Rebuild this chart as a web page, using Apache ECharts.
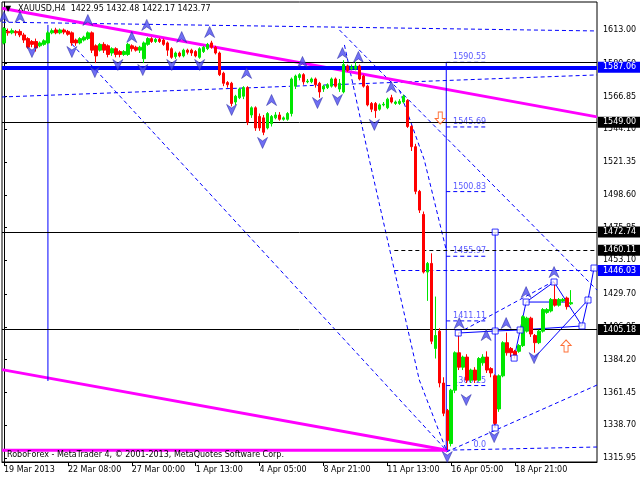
<!DOCTYPE html>
<html><head><meta charset="utf-8">
<script src="https://cdn.jsdelivr.net/npm/echarts@6/dist/echarts.min.js"></script>
<style>html,body{margin:0;padding:0;background:#fff}#c{width:640px;height:480px}</style>
</head><body><div id="c"></div>
<script>
// ---- candles (H4 XAUUSD) : open / close / low / high ----
const open = [1604,1612,1611,1612,1612,1609.5,1607,1605,1605,1602,1603,1604,1611,1613,1611,1613,1612,1611,1606,1604,1606,1607,1611,1602,1599,1603,1602,1597,1600,1598,1596,1596,1602,1601,1599,1593,1603,1607,1605,1606.5,1606,1604,1600,1594.5,1597,1595,1599,1599,1598,1594,1598,1600,1604,1601,1597,1583,1576.5,1576,1563,1566,1567,1573,1554,1559,1553,1552,1545,1548,1552,1554,1551,1551,1555,1574,1580,1582,1577,1577,1579,1576,1572,1573,1574,1579,1572,1570,1588,1586,1586,1588,1581,1574,1562,1562,1558,1561,1559,1566,1562,1562,1563,1564,1546,1532,1501,1485,1445,1451,1392,1404,1368,1349,1326,1363,1389,1379,1386,1370,1377,1370,1382,1386,1378,1373,1350,1373,1396,1392,1390,1390,1394,1404,1413,1401,1396,1404,1417,1418,1426,1422,1425,1427,1422.95];
const close = [1614,1611,1612.5,1611,1609.5,1606,1601,1603,1600.5,1604,1605.5,1611,1612.5,1611,1613,1611.5,1610,1604,1604,1607,1608,1611,1599,1595,1603,1599,1596,1600,1596,1596,1598,1603,1600,1599,1601,1604,1607,1605,1606.5,1605,1603,1599,1594,1597,1595,1599,1597.5,1597,1595,1600,1601,1603,1601,1597,1582,1576,1575,1562,1567,1572,1573,1549,1559,1545,1545,1542,1555,1553,1554,1551,1552,1555,1579,1581,1582,1577,1577.5,1579,1575,1570,1574,1575,1579,1574,1576,1589,1585,1587,1588,1579,1574,1561,1558,1557,1561,1561.5,1565,1563,1563,1563.5,1567,1546,1532,1501,1488,1445,1451,1397,1401,1368,1347,1328,1363,1389,1379,1386,1370,1377,1370,1385,1386,1377,1375,1340,1373,1396,1389,1389,1387,1394,1414,1413,1402,1396,1404,1419,1419,1426,1422,1426,1426,1421,1423.77];
const low = [1603,1609,1610,1609,1608,1604,1600,1601,1598,1601,1602,1603,1610,1610,1610,1610,1609,1602,1602,1603,1605,1606,1597,1590,1598,1597,1594,1595,1594,1594,1595,1595,1598,1598,1597,1590,1602,1604,1604,1604,1602,1595,1593,1593,1594,1594,1596,1595,1594,1593,1597,1599,1600,1596,1581,1574,1573,1560,1561,1565,1565,1547,1552,1543,1543,1540,1544,1546,1551,1550,1550,1550,1553,1572,1578,1575,1576,1576,1573,1566,1570,1572,1573,1573,1570,1569,1584,1585,1585,1578,1573,1560,1556,1552,1557,1560,1558,1562,1561,1561,1562,1545,1529,1499,1486,1444,1425,1395,1385,1365,1345,1321.4,1324,1361,1377,1377,1368,1368,1368,1369,1380,1375,1372,1337,1348,1372,1387,1386,1385,1389,1393,1403,1400,1389,1395,1403,1416,1417,1421,1421,1424,1419,1422.17];
const high = [1615,1614,1614,1613,1613.5,1611,1608,1606,1607,1605,1606.5,1612.5,1614,1614.5,1614,1614,1613,1612,1607,1608,1609,1612,1612,1603,1604,1604.5,1603,1601,1601,1599,1599,1604,1603,1602,1602,1605,1608,1608,1607.5,1607.5,1607,1605,1601,1598,1598,1600,1600,1600,1599,1601,1602,1604,1605.5,1602,1598,1584,1577.5,1577,1568,1573,1574,1574,1560,1560,1555,1554,1556,1554,1556,1556,1553,1556,1580,1582,1583,1583,1579,1580,1580,1577,1575,1576,1580,1580,1579,1592,1589,1589,1591,1589,1582,1575,1563,1563,1562,1563,1566,1568,1564,1565,1568,1565,1547,1534,1502,1487,1452,1458,1428,1406,1372,1350,1364,1390,1403,1387,1388,1378,1379,1386,1388,1390,1379,1374,1374,1397,1403,1393,1391,1395,1415,1414,1414,1402,1405,1420,1420,1427,1438,1427,1427,1428,1432.48];
const barCount = 149; // includes empty future slots on the right

// ---- axis tick labels ----
const xTickIndex = [0,16,32,48,64,80,96,112,128];
const xTickText = ['19 Mar 2013','22 Mar 08:00','27 Mar 00:00','1 Apr 13:00','4 Apr 05:00','8 Apr 21:00','11 Apr 13:00','16 Apr 05:00','18 Apr 21:00'];
const yTickValues = [1613.00,1589.60,1566.85,1544.10,1521.35,1498.60,1475.85,1453.10,1429.70,1406.95,1384.20,1361.45,1338.70,1315.95];
const priceMin = 1313.2, priceMax = 1632.4;

// ---- horizontal levels ----
const blackLevels = [1590.3, 1549.00, 1472.74, 1405.18];
const blueLevel = [1587.06];
const dashedBlackLevel = [1460.11];
const dashedBlueLevel = [1446.03];
const lastPrice = [1423.77];
const partialLevelStart = 97.75; // bar index where the dashed levels begin

// ---- drawn objects [barIndex, price] ----
const magentaLines = [
  [[-0.5,1628.0],[148.5,1552.7]],
  [[-0.5,1377.3],[111,1321.4]],
  [[-0.5,1321.4],[111,1321.4]]
];
const blueSolidLines = [
  [[11,1616.5],[11,1369.4]],
  [[110.75,1590.55],[110.75,1321.4]],
  [[123,1472.74],[123,1336.8]],
  [[113.75,1402.7],[123,1404.1],[129.25,1404.8],[144.75,1407.6]],
  [[127.75,1385.3],[129.25,1404.8],[130.75,1424.2],[140.75,1424.2]],
  [[130.75,1424.2],[137.75,1438.1],[144.75,1407.6],[146.25,1425.6],[147.75,1447.8]],
  [[132.75,1385.3],[146.25,1425.6]]
];
const blueDashedLines = [
  [[-0.5,1618.4],[148.5,1612.3]],
  [[-0.5,1566.5],[148.5,1581.8]],
  [[17,1603.2],[110.75,1321.4]],
  [[84,1613.0],[148.5,1432.5]],
  [[110.75,1320.1],[148.5,1366.6]],
  [[85.25,1602.6],[91.5,1522.8],[97.75,1446.4],[104,1370.1],[110.75,1321.4]],
  [[99,1571.4],[105.25,1522.8],[110.75,1460.3]],
  [[110.75,1321.4],[148.5,1323.6]],
  [[113.75,1402.7],[138.25,1439.5]]
];
const squareMarks = [[113.75,1402.7],[123,1404.1],[123,1472.74],[123,1336.8],[129.25,1404.8],[127.75,1385.3],[130.75,1424.2],[137.75,1438.1],[144.75,1407.6],[146.25,1425.6],[147.75,1447.8]];
const fiboLevels = [1590.55,1545.69,1500.83,1455.97,1411.11,1366.25,1321.39];
const fiboText = ['1590.55','1545.69','1500.83','1455.97','1411.11','1366.25','0.0'];
const fiboFrom = 110.75, fiboTo = 120.75;
const upFractals = [[0,1622],[4,1622],[21,1619.9],[32,1608.1],[35.75,1616.5],[44.5,1608.1],[51.5,1611.6],[60.75,1583.2],[67,1564.4],[74.75,1590.8],[84.75,1597.0],[88.75,1594.3],[97,1573.4],[114,1409.6],[120.75,1401.3],[125.75,1409.6],[130.75,1431.1],[137.75,1445.0]];
const downFractals = [[7,1597.7],[17,1597.7],[22.75,1583.8],[28.5,1588.7],[34.75,1585.2],[42,1588.7],[49,1588.7],[57,1557.5],[64.75,1534.6],[78.5,1562.3],[83.5,1564.4],[92.75,1547.1],[111,1316.6],[115.75,1356.2],[122.75,1330.5],[132.75,1385.3]];
const redDownArrow = [[109.25,1551.9]];
const redUpArrow = [[140.75,1393.7]];

const titleText = 'XAUUSD,H4  1422.95 1432.48 1422.17 1423.77';
const footerText = 'RoboForex - MetaTrader 4, \u00a9 2001-2013, MetaQuotes Software Corp.';

// ---------------------------------------------------------------
const FONT = 'DejaVu Sans';
const chart = echarts.init(document.getElementById('c'), null, {renderer:'canvas'});
const cats = Array.from({length: barCount}, (_, i) => String(i));
const candleData = open.map((o, i) => [o, close[i], low[i], high[i]]);
const BLUE = '#0000ff', MAG = '#ff00ff', FIB = '#2e2eff';

function poly(points, color, width, type, z) {
  return {type:'line', xAxisIndex:1, yAxisIndex:0, data: points, symbol:'none', silent:true,
    animation:false, z: z || 2, lineStyle:{color, width, type: type || 'solid'}};
}
function boxLabel(text, bg) {
  return {show:true, position:'end', distance:1, formatter:text, color:'#fff', backgroundColor:bg,
    fontFamily:FONT, fontSize:8, padding:[2,4,1,5], width:33, align:'left'};
}
const series = [];
magentaLines.forEach(p => series.push(poly(p, MAG, 3, 'solid', 3)));
blueDashedLines.forEach(p => series.push(poly(p, BLUE, 1, [4,3], 2)));
blueSolidLines.forEach(p => series.push(poly(p, BLUE, 1, 'solid', 3)));
fiboLevels.forEach((lv, k) => { if (k < fiboLevels.length - 1) series.push(poly([[fiboFrom, lv],[fiboTo, lv]], BLUE, 1, [4,3], 2)); });

// horizontal levels with price boxes
const mlData = [];
blackLevels.forEach(v => mlData.push([{coord:[-0.5,v], lineStyle:{color:'#000', width:1, type:'solid'},
   label: v === 1590.3 ? {show:false} : boxLabel(v.toFixed(2), '#000')}, {coord:[148.5,v]}]));
blueLevel.forEach(v => mlData.push([{coord:[-0.5,v], lineStyle:{color:BLUE, width:4, type:'solid'}, label: boxLabel(v.toFixed(2), BLUE)}, {coord:[148.5,v]}]));
dashedBlackLevel.forEach(v => mlData.push([{coord:[partialLevelStart,v], lineStyle:{color:'#000', width:1, type:[4,3]}, label: boxLabel(v.toFixed(2), '#000')}, {coord:[148.5,v]}]));
dashedBlueLevel.forEach(v => mlData.push([{coord:[partialLevelStart,v], lineStyle:{color:BLUE, width:1, type:[4,3]}, label: boxLabel(v.toFixed(2), BLUE)}, {coord:[148.5,v]}]));
lastPrice.forEach(v => mlData.push([{coord:[147,v], lineStyle:{opacity:0}, label: boxLabel(v.toFixed(2), '#000')}, {coord:[148.5,v]}]));
series.push({type:'line', xAxisIndex:1, yAxisIndex:0, data:[], silent:true, z:3,
  markLine:{symbol:'none', silent:true, animation:false, data: mlData}});

// fibo labels
series.push({type:'scatter', xAxisIndex:1, yAxisIndex:0, symbolSize:0, silent:true, z:4,
  data: fiboLevels.map((lv, k) => ({value:[fiboTo, lv], label:{show:true, formatter: fiboText[k],
    position:[0,-1], align:'right', verticalAlign:'bottom', color:FIB, fontFamily:FONT, fontSize:8}}))});

// candles (on top of drawn objects)
series.push({type:'candlestick', xAxisIndex:0, yAxisIndex:0, data:candleData, barWidth:3, z:6, silent:true,
  itemStyle:{color:'#00e600', color0:'#ff0000', borderColor:'#00e600', borderColor0:'#ff0000', borderWidth:1}});

// markers
const upPath = 'path://M5,0 L10,11 L5,7.5 L0,11 Z';
series.push({type:'scatter', xAxisIndex:1, yAxisIndex:0, data:upFractals, symbol:upPath, symbolSize:[10,11], z:7, silent:true,
  itemStyle:{color:'#4b4bf0', borderColor:'#1e1e9a', borderWidth:0.6}});
series.push({type:'scatter', xAxisIndex:1, yAxisIndex:0, data:downFractals, symbol:upPath, symbolRotate:180, symbolSize:[10,11], z:7, silent:true,
  itemStyle:{color:'#4b4bf0', borderColor:'#1e1e9a', borderWidth:0.6}});
series.push({type:'scatter', xAxisIndex:1, yAxisIndex:0, data:squareMarks, symbol:'rect', symbolSize:6, z:8, silent:true,
  itemStyle:{color:'#fff', borderColor:BLUE, borderWidth:1}});
const arrowPath = 'path://M5,0 L10,5 L7,5 L7,11 L3,11 L3,5 L0,5 Z';
series.push({type:'scatter', xAxisIndex:1, yAxisIndex:0, data:redUpArrow, symbol:arrowPath, symbolSize:[10,12], z:8, silent:true,
  itemStyle:{color:'#fff', borderColor:'#ff4a00', borderWidth:1}});
series.push({type:'scatter', xAxisIndex:1, yAxisIndex:0, data:redDownArrow, symbol:arrowPath, symbolRotate:180, symbolSize:[10,12], z:8, silent:true,
  itemStyle:{color:'#fff', borderColor:'#ff4a00', borderWidth:1}});

const option = {
  animation:false,
  backgroundColor:'#fff',
  grid:{left:2, right:43, top:2, bottom:18, show:true, borderColor:'#000', borderWidth:1, backgroundColor:'#fff'},
  xAxis:[
    {type:'category', data:cats, boundaryGap:true, gridIndex:0,
     axisLine:{show:true, lineStyle:{color:'#000', width:1}},
     axisTick:{show:true, interval:(i)=>xTickIndex.includes(i), alignWithLabel:true, length:4, lineStyle:{color:'#000'}},
     axisLabel:{show:true, interval:(i)=>xTickIndex.includes(i), formatter:(v,i)=>{const k=xTickIndex.indexOf(Number(v)); return k>=0?xTickText[k]:'';},
       align:'left', margin:4, color:'#000', fontFamily:FONT, fontSize:8},
     splitLine:{show:false}},
    {type:'value', min:-0.5, max:148.5, gridIndex:0, show:false, splitLine:{show:false}}
  ],
  yAxis:[{type:'value', position:'right', min:priceMin, max:priceMax, scale:true,
     axisLine:{show:true, lineStyle:{color:'#000'}},
     axisTick:{show:true, customValues:yTickValues, length:3, lineStyle:{color:'#000'}},
     axisLabel:{show:true, customValues:yTickValues, formatter:(v)=>v.toFixed(2), margin:6, color:'#000', fontFamily:FONT, fontSize:8},
     splitLine:{show:false}}],
  graphic:[
    {type:'text', left:5, top:5, z:100, style:{text:'\u25bc', font:'8px "DejaVu Sans"', fill:'#000'}},
    {type:'text', left:18, top:5, z:100, style:{text:titleText, font:'8px "DejaVu Sans"', fill:'#000'}},
    {type:'text', left:7, top:451, z:100, style:{text:footerText, font:'8px "DejaVu Sans"', fill:'#000'}}
  ],
  series
};
chart.setOption(option);
</script></body></html>
